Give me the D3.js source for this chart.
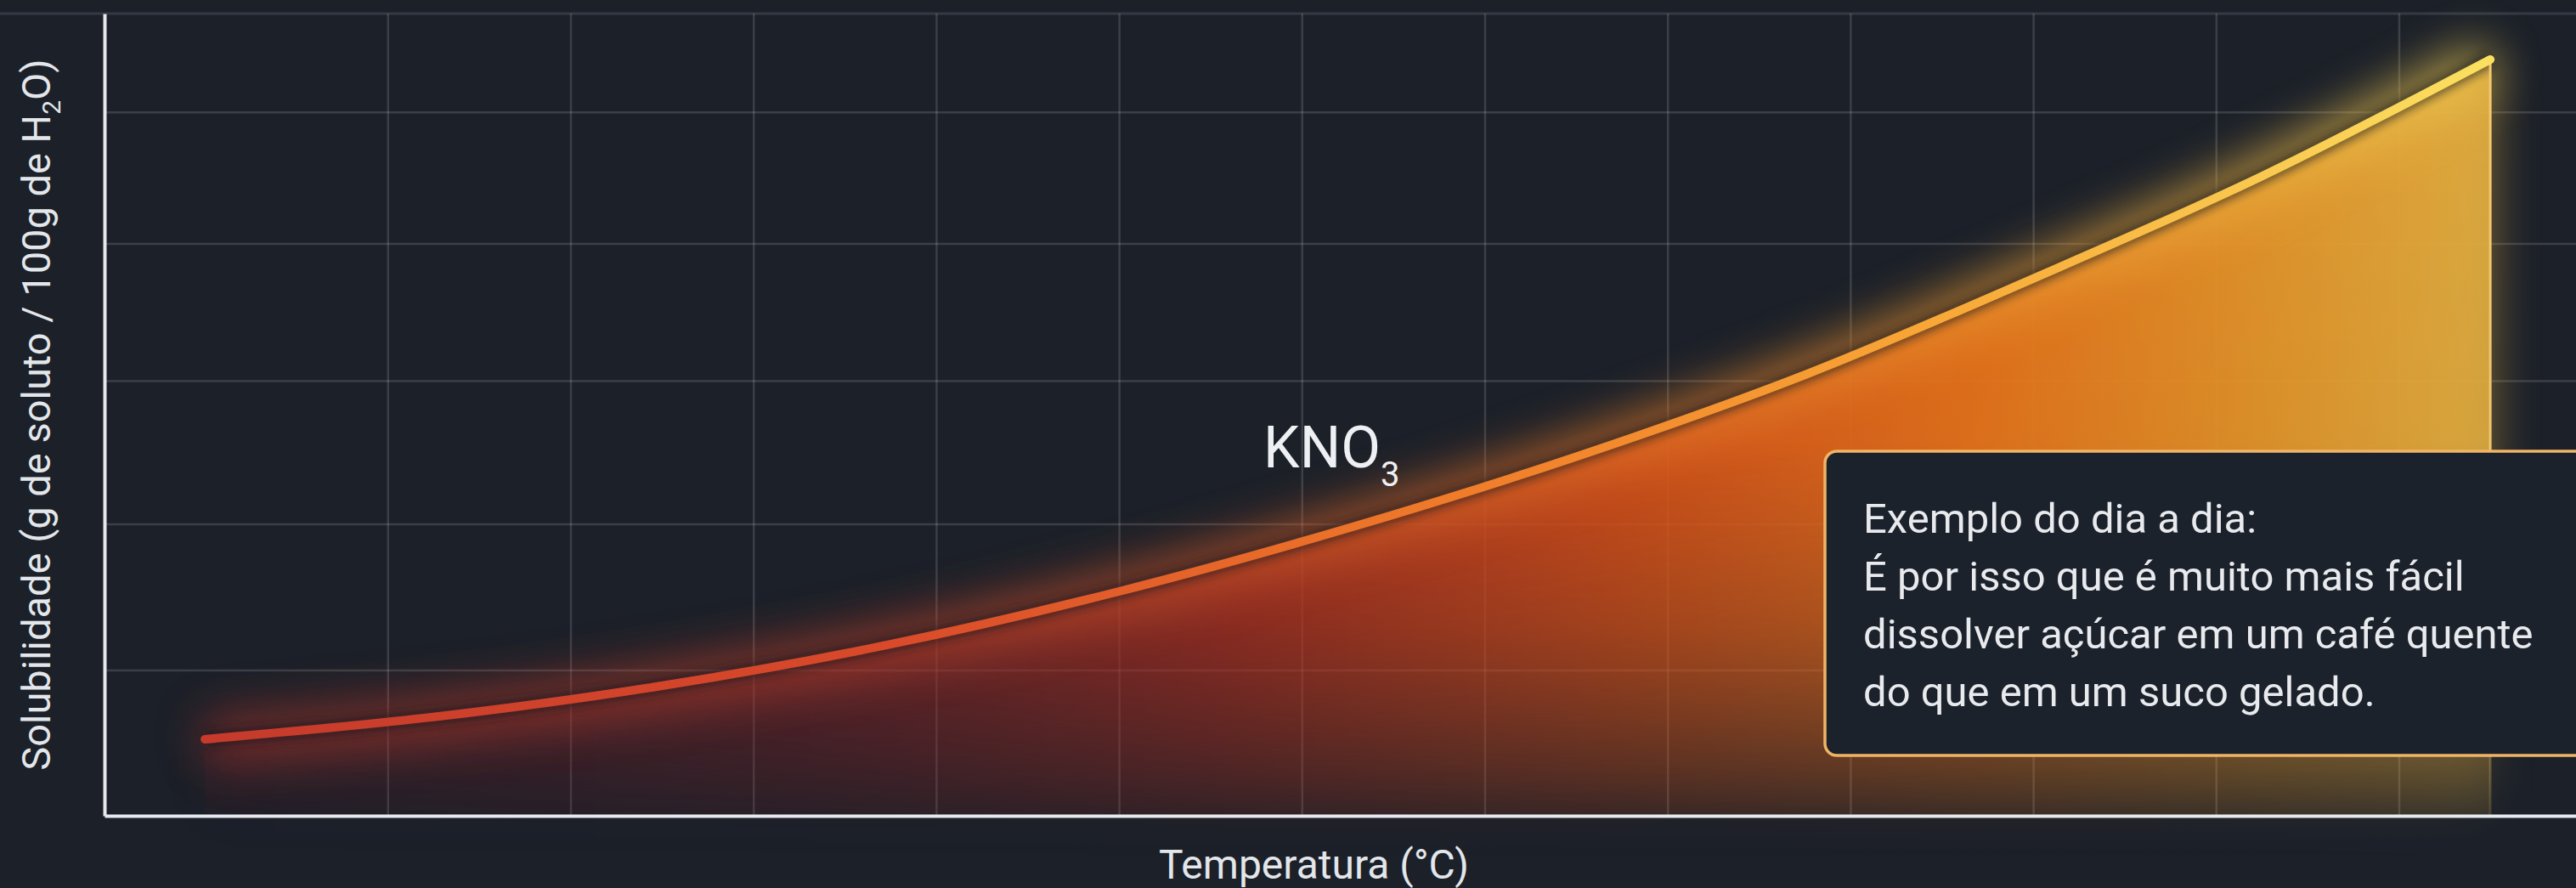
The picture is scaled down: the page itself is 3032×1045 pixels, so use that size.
<!DOCTYPE html>
<html><head><meta charset="utf-8">
<script src="https://cdn.jsdelivr.net/npm/d3@7"></script>
<style>
html,body{margin:0;padding:0;background:#1b2029;overflow:hidden}
text{font-family:Roboto,"Noto Sans",sans-serif}
</style>
</head><body>
<svg id="chart" width="3032" height="1045"></svg>
<script>
// ---- data ----
const temperatures = [0, 10, 20, 30, 40, 50, 60, 70, 80, 90, 100];
const solubility   = [13.3, 20.9, 31.6, 45.8, 63.9, 85.5, 110, 138, 171, 206, 246];
const xGridValues  = [8, 16, 24, 32, 40, 48, 56, 64, 72, 80, 88, 96];
const yGridValues  = [37, 87, 136, 183, 228];
const seriesName   = ["KNO", "3"];
const xTitle       = "Temperatura (°C)";
const yTitle       = ["Solubilidade (g de soluto / 100g de H", "2", "O)"];
const noteLines    = ["Exemplo do dia a dia:", "É por isso que é muito mais fácil", "dissolver açúcar em um café quente", "do que em um suco gelado."];

const W = 3032, H = 1045;
const svg = d3.select("#chart");
const x = d3.scaleLinear().domain([-4.39, 103.75]).range([123, W]);
const y = d3.scaleLinear().domain([-12.9, 261.7]).range([960, 16]);
const data = temperatures.map((t, i) => ({t, v: solubility[i]}));

const defs = svg.append("defs");
const x0 = x(temperatures[0]), x1 = x(temperatures[temperatures.length-1]);

const lineGrad = defs.append("linearGradient").attr("id","lineGrad")
  .attr("gradientUnits","userSpaceOnUse").attr("x1",x0).attr("x2",x1).attr("y1",0).attr("y2",0);
[[0,"#c63a2c"],[0.3,"#d94a2a"],[0.55,"#f07c2a"],[0.75,"#f8a636"],[1,"#fbe060"]]
  .forEach(([o,c])=>lineGrad.append("stop").attr("offset",o).attr("stop-color",c));

const fillGrad = defs.append("linearGradient").attr("id","fillGrad")
  .attr("gradientUnits","userSpaceOnUse").attr("x1",x0).attr("x2",x1).attr("y1",0).attr("y2",0);
[[0,"#6a1a26",0.5],[0.25,"#8a2226",0.8],[0.45,"#b3301f",1],[0.62,"#d65019",1],[0.78,"#e6741b",1],[0.9,"#e4952a",1],[1,"#e2ae40",1]]
  .forEach(([o,c,a])=>fillGrad.append("stop").attr("offset",o).attr("stop-color",c).attr("stop-opacity",a));

const maskGrad = defs.append("linearGradient").attr("id","maskGrad")
  .attr("gradientUnits","userSpaceOnUse").attr("x1",0).attr("x2",0).attr("y1",y(246)).attr("y2",y.range()[0]);
[[0,1],[0.5,0.95],[0.75,0.62],[1,0.14]]
  .forEach(([o,a])=>maskGrad.append("stop").attr("offset",o).attr("stop-color","#fff").attr("stop-opacity",a));
defs.append("mask").attr("id","fadeMask").attr("maskUnits","userSpaceOnUse")
  .attr("x",0).attr("y",0).attr("width",W).attr("height",H)
  .append("rect").attr("width",W).attr("height",H).attr("fill","url(#maskGrad)");

function blurFilter(id, sd){
  const f = defs.append("filter").attr("id",id).attr("filterUnits","userSpaceOnUse")
    .attr("x",0).attr("y",0).attr("width",W).attr("height",H);
  f.append("feGaussianBlur").attr("stdDeviation",sd);
}
blurFilter("glow",28); blurFilter("glowSm",10); blurFilter("shadow",5);

// background
svg.append("rect").attr("width",W).attr("height",H).attr("fill","#1b2029");

// top frame line
svg.append("line").attr("x1",0).attr("x2",W).attr("y1",y.range()[1]).attr("y2",y.range()[1])
  .attr("stroke","#343a45").attr("stroke-width",3);

// gridlines
const gx = svg.append("g").attr("transform",`translate(0,${y.range()[0]})`)
  .call(d3.axisBottom(x).tickValues(xGridValues).tickSize(-(y.range()[0]-y.range()[1])).tickFormat(""));
const gy = svg.append("g").attr("transform",`translate(${x.range()[0]},0)`)
  .call(d3.axisLeft(y).tickValues(yGridValues).tickSize(-(x.range()[1]-x.range()[0])).tickFormat(""));
[gx,gy].forEach(g=>{g.select(".domain").remove();
  g.selectAll(".tick line").attr("stroke","#ffffff").attr("stroke-opacity",0.14).attr("stroke-width",2.5);});

const curve = d3.curveMonotoneX;
const area = d3.area().x(d=>x(d.t)).y0(y.range()[0]).y1(d=>y(d.v)).curve(curve);
const line = d3.line().x(d=>x(d.t)).y(d=>y(d.v)).curve(curve);

// area glow outward
svg.append("path").datum(data).attr("d",area).attr("fill","url(#fillGrad)")
  .attr("opacity",0.55).attr("filter","url(#glow)").attr("mask","url(#fadeMask)");
// area
svg.append("path").datum(data).attr("d",area).attr("fill","url(#fillGrad)")
  .attr("fill-opacity",0.93).attr("mask","url(#fadeMask)");

// line glow
svg.append("path").datum(data).attr("d",line).attr("fill","none").attr("stroke","url(#lineGrad)")
  .attr("stroke-width",50).attr("opacity",0.55).attr("filter","url(#glow)");
svg.append("path").datum(data).attr("d",line).attr("fill","none").attr("stroke","#12151b")
  .attr("stroke-width",20).attr("opacity",0.5).attr("filter","url(#shadow)");
// right edge of area
svg.append("line").attr("x1",x1).attr("x2",x1).attr("y1",y(246)).attr("y2",y.range()[0])
  .attr("stroke","#f3c871").attr("stroke-width",3).attr("mask","url(#fadeMask)");
// main line
svg.append("path").datum(data).attr("d",line).attr("fill","none").attr("stroke","url(#lineGrad)")
  .attr("stroke-width",10).attr("stroke-linecap","round");

// axes
const ax = svg.append("g").attr("transform",`translate(0,${y.range()[0]})`)
  .call(d3.axisBottom(x).tickValues([]).tickSizeOuter(0));
const ay = svg.append("g").attr("transform",`translate(${x.range()[0]},0)`)
  .call(d3.axisLeft(y).tickValues([]).tickSizeOuter(0));
[ax,ay].forEach(g=>g.select(".domain").attr("stroke","#e6e9ee").attr("stroke-width",4));

// series label
const lab = svg.append("text").attr("x",1487).attr("y",550).attr("fill","#eef0f3").attr("font-size",68);
lab.append("tspan").text(seriesName[0]);
lab.append("tspan").attr("dy",22).attr("font-size",40).text(seriesName[1]);

// axis titles
svg.append("text").attr("x",(x.range()[0]+x.range()[1])/2-31).attr("y",1034)
  .attr("text-anchor","middle").attr("fill","#e3e6ea").attr("font-size",48).text(xTitle);
const yt = svg.append("text").attr("transform",`translate(59,${(y.range()[0]+y.range()[1])/2}) rotate(-90)`)
  .attr("text-anchor","middle").attr("fill","#e3e6ea").attr("font-size",47);
yt.append("tspan").text(yTitle[0]);
yt.append("tspan").attr("dy",12).attr("font-size",30).text(yTitle[1]);
yt.append("tspan").attr("dy",-12).text(yTitle[2]);

// note box
const box = svg.append("g");
box.append("rect").attr("x",2148).attr("y",531).attr("width",950).attr("height",358).attr("rx",14)
  .attr("fill","#1c222b").attr("stroke","#efb466").attr("stroke-width",3.5);
const nt = box.append("text").attr("fill","#e8eaee").attr("font-size",49);
noteLines.forEach((s,i)=>nt.append("tspan").attr("x",2193).attr("y",627+i*68).text(s));
</script>
</body></html>
